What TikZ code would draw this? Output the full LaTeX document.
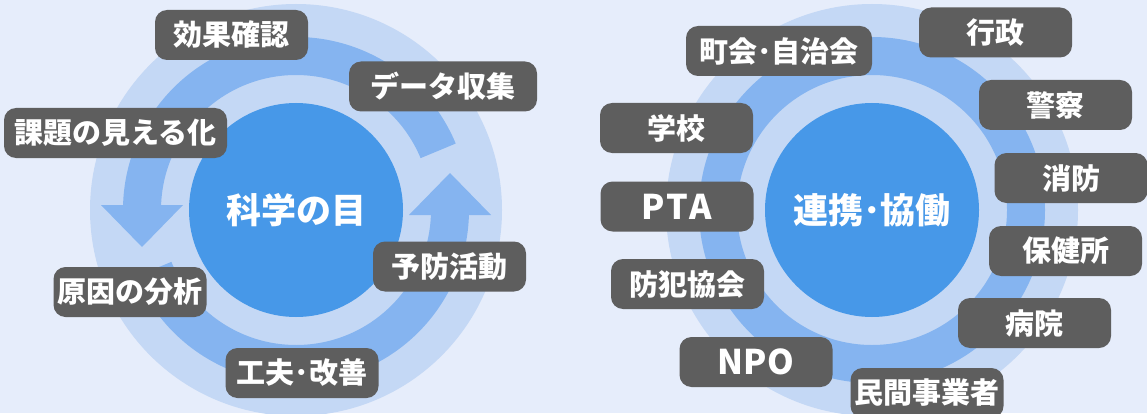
\documentclass[tikz,border=0pt]{standalone}
\usepackage{fontspec}
\newfontfamily\jpfont{Noto Sans CJK JP}
\definecolor{bg}{HTML}{E6EDFB}
\definecolor{ring}{HTML}{C4D8F5}
\definecolor{band}{HTML}{85B4F0}
\definecolor{core}{HTML}{4798E8}
\definecolor{tag}{HTML}{5E5E5E}
\begin{document}
\begin{tikzpicture}[x=1pt,y=1pt,
  tagbox/.style={fill=tag, rounded corners=12pt, text=white,
    font=\jpfont\bfseries\fontsize{29}{29}\selectfont,
    minimum height=50pt, minimum width=153pt, inner sep=0pt, align=center},
  latintag/.style={tagbox, font=\jpfont\bfseries\fontsize{34}{34}\selectfont},
  corenode/.style={circle, fill=core, minimum size=214pt, inner sep=0pt, text=white,
    font=\jpfont\bfseries\fontsize{35}{35}\selectfont},
  ringdisc/.style={fill=ring},
  bandfill/.style={fill=band}]

\fill[bg] (0,0) rectangle (1147,413);
\useasboundingbox (0,0) rectangle (1147,413);

% ---------- left cycle ----------
\coordinate (L) at (296,203);
\fill[ringdisc] (L) circle[radius=206];
\fill[bandfill, shift={(296,203)}] (22.6:173) arc[start angle=22.6, end angle=180, radius=173]
   -- (180:135) arc[start angle=180, end angle=22.6, radius=135] -- cycle;
\fill[bandfill, shift={(296,203)}] (-195,5) -- (-113,5) -- (-154,-37) -- cycle;
\fill[bandfill, shift={(296,203)}] (202.6:173) arc[start angle=202.6, end angle=360, radius=173]
   -- (0:135) arc[start angle=360, end angle=202.6, radius=135] -- cycle;
\fill[bandfill, shift={(296,203)}] (113,-5) -- (195,-5) -- (154,37) -- cycle;
\node[corenode] (kagaku) at (296,203) {科学の目};

\node[tagbox] (kouka) at (231.5,378) {効果確認};
\node[tagbox, minimum width=188pt] (data) at (443,326.5) {データ収集};
\node[tagbox, minimum width=223pt] (kadai) at (115.5,280) {課題の見える化};
\node[tagbox] (genin) at (130,121) {原因の分析};
\node[tagbox] (yobou) at (449.5,146.5) {予防活動};
\node[tagbox] (kufuu) at (302,40) {工夫･改善};

% ---------- right network ----------
\coordinate (R) at (872,203);
\fill[ringdisc] (R) circle[radius=206];
\fill[bandfill, even odd rule] (R) circle[radius=173] (R) circle[radius=135];
\node[corenode] (renkei) at (872,203) {連携･協働};

\node[tagbox, minimum width=186pt] (choukai) at (779,362) {町会･自治会};
\node[tagbox] (gyousei) at (995.5,380.5) {行政};
\node[tagbox] (keisatsu) at (1055.5,308) {警察};
\node[tagbox] (shoubou) at (1071,235) {消防};
\node[tagbox] (hoken) at (1065.5,162) {保健所};
\node[tagbox] (byouin) at (1034.5,90) {病院};
\node[tagbox] (minkan) at (927,20) {民間事業者};
\node[latintag] (npo) at (756,51) {NPO};
\node[tagbox] (bouhan) at (687.5,129) {防犯協会};
\node[latintag] (pta) at (677,206.5) {P\kern1.5pt T\kern1.5pt A};
\node[tagbox] (gakkou) at (676.5,285) {学校};
\end{tikzpicture}
\end{document}
